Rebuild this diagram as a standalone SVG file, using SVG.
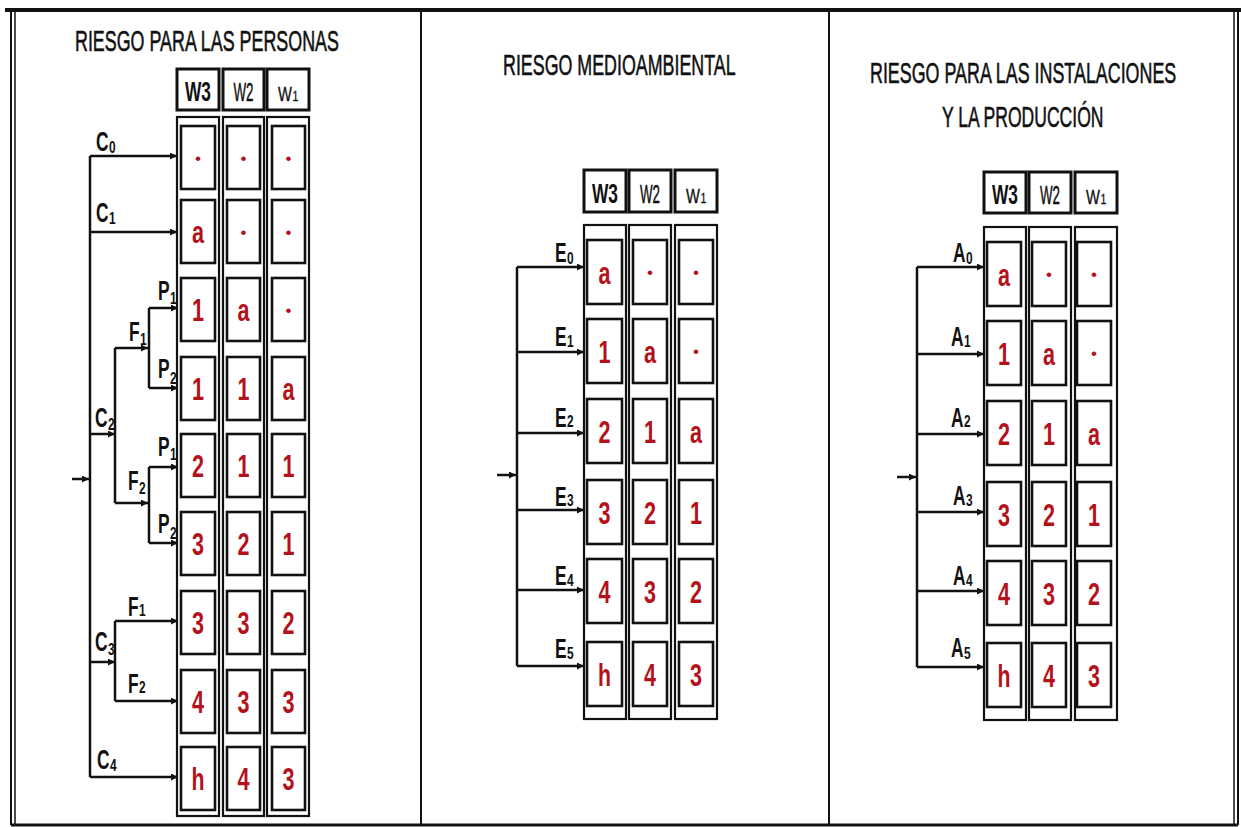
<svg xmlns="http://www.w3.org/2000/svg" width="1241" height="827" viewBox="0 0 1241 827">
<defs>
<marker id="ah" markerUnits="userSpaceOnUse" markerWidth="7" markerHeight="7" refX="7" refY="3.5" orient="auto"><path d="M0,0 L7,3.5 L0,7 z" fill="#111"/></marker>
<style>
.frame{stroke:#111;fill:none}
.hdr{fill:#fff;stroke:#111;stroke-width:3}
.col{fill:#fff;stroke:#111;stroke-width:2.2}
.cell{fill:#fff;stroke:#111;stroke-width:2.6}
.v{font-family:"Liberation Sans",Arial,sans-serif;font-weight:bold;font-size:32px;fill:#b3121c}
.d{font-family:"Liberation Sans",Arial,sans-serif;font-size:17px;fill:#b3121c;text-anchor:middle}
.t{font-family:"Liberation Sans",Arial,sans-serif;font-size:30px;fill:#111;stroke:#111;stroke-width:0.6}
.h3{font-family:"Liberation Sans",Arial,sans-serif;font-weight:bold;font-size:28px;fill:#111}
.h2{font-family:"Liberation Sans",Arial,sans-serif;font-size:26px;fill:#111;stroke:#111;stroke-width:0.5}
.h1{font-family:"Liberation Sans",Arial,sans-serif;font-size:21px;fill:#111;stroke:#111;stroke-width:0.4}
.hs{font-family:"Liberation Sans",Arial,sans-serif;font-size:15px;fill:#111;stroke:#111;stroke-width:0.3}
.lb{font-family:"Liberation Sans",Arial,sans-serif;font-weight:bold;font-size:28px;fill:#111}
.sb{font-family:"Liberation Sans",Arial,sans-serif;font-weight:bold;font-size:17px;fill:#111}
.cn{stroke:#111;stroke-width:2.5;fill:none}
.ar{marker-end:url(#ah)}
</style>
</defs>
<rect width="1241" height="827" fill="#fff"/>
<g id="frame" class="frame">
<line x1="5" y1="10" x2="1241" y2="10" stroke-width="4"/>
<line x1="11" y1="10" x2="11" y2="825" stroke-width="2"/>
<line x1="15" y1="10" x2="15" y2="825" stroke-width="1.5"/>
<line x1="11" y1="825" x2="1238" y2="825" stroke-width="3"/>
<line x1="1234" y1="10" x2="1234" y2="825" stroke-width="1.5"/>
<line x1="1238" y1="10" x2="1238" y2="825" stroke-width="2"/>
<line x1="421" y1="10" x2="421" y2="825" stroke-width="2"/>
<line x1="829" y1="10" x2="829" y2="825" stroke-width="2"/>
</g>

<!-- LEFT PANEL -->
<g id="left-title"><text class="t" transform="translate(75,51) scale(0.596,1)">RIESGO PARA LAS PERSONAS</text></g>
<g id="left-hdr-w3"><rect class="hdr" x="177" y="69" width="42" height="41"/><text class="h3" x="185" y="101" textLength="26" lengthAdjust="spacingAndGlyphs">W3</text></g>
<g id="left-hdr-w2"><rect class="hdr" x="223" y="69" width="41" height="41"/><text class="h2" x="233.5" y="101" textLength="20" lengthAdjust="spacingAndGlyphs">W2</text></g>
<g id="left-hdr-w1"><rect class="hdr" x="267" y="69" width="42" height="41"/><text class="h1" transform="translate(278,101) scale(0.7,1)">W</text><text class="hs" transform="translate(292.5,101) scale(0.7,1)">1</text></g>

<g id="left-col-w3">
<rect class="col" x="177" y="117" width="42" height="699"/>
<rect class="cell" x="181" y="126" width="34" height="63"/><text class="d" x="198" y="164">•</text>
<rect class="cell" x="181" y="200" width="34" height="63"/><text class="v" x="192" y="243" textLength="12" lengthAdjust="spacingAndGlyphs">a</text>
<rect class="cell" x="181" y="278" width="34" height="63"/><text class="v" x="192" y="321" textLength="12" lengthAdjust="spacingAndGlyphs">1</text>
<rect class="cell" x="181" y="357" width="34" height="63"/><text class="v" x="192" y="400" textLength="12" lengthAdjust="spacingAndGlyphs">1</text>
<rect class="cell" x="181" y="434" width="34" height="63"/><text class="v" x="192" y="477" textLength="12" lengthAdjust="spacingAndGlyphs">2</text>
<rect class="cell" x="181" y="512" width="34" height="63"/><text class="v" x="192" y="555" textLength="12" lengthAdjust="spacingAndGlyphs">3</text>
<rect class="cell" x="181" y="591" width="34" height="63"/><text class="v" x="192" y="634" textLength="12" lengthAdjust="spacingAndGlyphs">3</text>
<rect class="cell" x="181" y="670" width="34" height="63"/><text class="v" x="192" y="713" textLength="12" lengthAdjust="spacingAndGlyphs">4</text>
<rect class="cell" x="181" y="747" width="34" height="63"/><text class="v" x="191.5" y="790" textLength="13" lengthAdjust="spacingAndGlyphs">h</text>
</g>
<g id="left-col-w2">
<rect class="col" x="223" y="117" width="41" height="699"/>
<rect class="cell" x="227" y="126" width="33" height="63"/><text class="d" x="243.5" y="164">•</text>
<rect class="cell" x="227" y="200" width="33" height="63"/><text class="d" x="243.5" y="238">•</text>
<rect class="cell" x="227" y="278" width="33" height="63"/><text class="v" x="237.5" y="321" textLength="12" lengthAdjust="spacingAndGlyphs">a</text>
<rect class="cell" x="227" y="357" width="33" height="63"/><text class="v" x="237.5" y="400" textLength="12" lengthAdjust="spacingAndGlyphs">1</text>
<rect class="cell" x="227" y="434" width="33" height="63"/><text class="v" x="237.5" y="477" textLength="12" lengthAdjust="spacingAndGlyphs">1</text>
<rect class="cell" x="227" y="512" width="33" height="63"/><text class="v" x="237.5" y="555" textLength="12" lengthAdjust="spacingAndGlyphs">2</text>
<rect class="cell" x="227" y="591" width="33" height="63"/><text class="v" x="237.5" y="634" textLength="12" lengthAdjust="spacingAndGlyphs">3</text>
<rect class="cell" x="227" y="670" width="33" height="63"/><text class="v" x="237.5" y="713" textLength="12" lengthAdjust="spacingAndGlyphs">3</text>
<rect class="cell" x="227" y="747" width="33" height="63"/><text class="v" x="237.5" y="790" textLength="12" lengthAdjust="spacingAndGlyphs">4</text>
</g>
<g id="left-col-w1">
<rect class="col" x="267" y="117" width="42" height="699"/>
<rect class="cell" x="272" y="126" width="33" height="63"/><text class="d" x="288.5" y="164">•</text>
<rect class="cell" x="272" y="200" width="33" height="63"/><text class="d" x="288.5" y="238">•</text>
<rect class="cell" x="272" y="278" width="33" height="63"/><text class="d" x="288.5" y="316">•</text>
<rect class="cell" x="272" y="357" width="33" height="63"/><text class="v" x="282.5" y="400" textLength="12" lengthAdjust="spacingAndGlyphs">a</text>
<rect class="cell" x="272" y="434" width="33" height="63"/><text class="v" x="282.5" y="477" textLength="12" lengthAdjust="spacingAndGlyphs">1</text>
<rect class="cell" x="272" y="512" width="33" height="63"/><text class="v" x="282.5" y="555" textLength="12" lengthAdjust="spacingAndGlyphs">1</text>
<rect class="cell" x="272" y="591" width="33" height="63"/><text class="v" x="282.5" y="634" textLength="12" lengthAdjust="spacingAndGlyphs">2</text>
<rect class="cell" x="272" y="670" width="33" height="63"/><text class="v" x="282.5" y="713" textLength="12" lengthAdjust="spacingAndGlyphs">3</text>
<rect class="cell" x="272" y="747" width="33" height="63"/><text class="v" x="282.5" y="790" textLength="12" lengthAdjust="spacingAndGlyphs">3</text>
</g>

<g id="left-connectors">
<path class="cn" d="M90 156 V777"/>
<path class="cn ar" d="M72 479 H89"/>
<path class="cn ar" d="M90 156 H177"/>
<path class="cn ar" d="M90 232 H177"/>
<path class="cn ar" d="M90 434 H115"/>
<path class="cn" d="M115 348 V503"/>
<path class="cn ar" d="M115 348 H148"/>
<path class="cn ar" d="M115 503 H148"/>
<path class="cn" d="M149 308 V388"/>
<path class="cn ar" d="M149 308 H178"/>
<path class="cn ar" d="M149 388 H178"/>
<path class="cn" d="M149 467 V543"/>
<path class="cn ar" d="M149 467 H178"/>
<path class="cn ar" d="M149 543 H178"/>
<path class="cn ar" d="M90 662 H115"/>
<path class="cn" d="M115 621 V701"/>
<path class="cn ar" d="M115 621 H178"/>
<path class="cn ar" d="M115 701 H178"/>
<path class="cn ar" d="M90 777 H178"/>
</g>
<g id="left-labels">
<text class="lb" transform="translate(96,151) scale(0.62,1)">C</text><text class="sb" transform="translate(109,153) scale(0.7,1)">0</text>
<text class="lb" transform="translate(96,222) scale(0.62,1)">C</text><text class="sb" transform="translate(109,224) scale(0.7,1)">1</text>
<text class="lb" transform="translate(95,427) scale(0.62,1)">C</text><text class="sb" transform="translate(108,430) scale(0.7,1)">2</text>
<text class="lb" transform="translate(129,341) scale(0.62,1)">F</text><text class="sb" transform="translate(140,345) scale(0.7,1)">1</text>
<text class="lb" transform="translate(158,300) scale(0.62,1)">P</text><text class="sb" transform="translate(170,304) scale(0.7,1)">1</text>
<text class="lb" transform="translate(158,378) scale(0.62,1)">P</text><text class="sb" transform="translate(170,384) scale(0.7,1)">2</text>
<text class="lb" transform="translate(158,456) scale(0.62,1)">P</text><text class="sb" transform="translate(170,460) scale(0.7,1)">1</text>
<text class="lb" transform="translate(128,490) scale(0.62,1)">F</text><text class="sb" transform="translate(139,494) scale(0.7,1)">2</text>
<text class="lb" transform="translate(158,533) scale(0.62,1)">P</text><text class="sb" transform="translate(170,539) scale(0.7,1)">2</text>
<text class="lb" transform="translate(128,616) scale(0.62,1)">F</text><text class="sb" transform="translate(139,616) scale(0.7,1)">1</text>
<text class="lb" transform="translate(95,651) scale(0.62,1)">C</text><text class="sb" transform="translate(108,655) scale(0.7,1)">3</text>
<text class="lb" transform="translate(128,693) scale(0.62,1)">F</text><text class="sb" transform="translate(139,693) scale(0.7,1)">2</text>
<text class="lb" transform="translate(97,769) scale(0.62,1)">C</text><text class="sb" transform="translate(110,771) scale(0.7,1)">4</text>
</g>

<!-- MIDDLE PANEL -->
<g id="mid-title"><text class="t" transform="translate(503,75) scale(0.595,1)">RIESGO MEDIOAMBIENTAL</text></g>
<g id="mid-hdr-w3"><rect class="hdr" x="584" y="170" width="42" height="42"/><text class="h3" x="592" y="203" textLength="26" lengthAdjust="spacingAndGlyphs">W3</text></g>
<g id="mid-hdr-w2"><rect class="hdr" x="629" y="170" width="42" height="42"/><text class="h2" x="640" y="203" textLength="20" lengthAdjust="spacingAndGlyphs">W2</text></g>
<g id="mid-hdr-w1"><rect class="hdr" x="675" y="170" width="42" height="42"/><text class="h1" transform="translate(686,203) scale(0.7,1)">W</text><text class="hs" transform="translate(700.5,203) scale(0.7,1)">1</text></g>

<g id="mid-col-w3">
<rect class="col" x="584" y="225" width="42" height="494"/>
<rect class="cell" x="587" y="240" width="35" height="64"/><text class="v" x="598.5" y="283.5" textLength="12" lengthAdjust="spacingAndGlyphs">a</text>
<rect class="cell" x="587" y="319" width="35" height="64"/><text class="v" x="598.5" y="362.5" textLength="12" lengthAdjust="spacingAndGlyphs">1</text>
<rect class="cell" x="587" y="399" width="35" height="64"/><text class="v" x="598.5" y="442.5" textLength="12" lengthAdjust="spacingAndGlyphs">2</text>
<rect class="cell" x="587" y="480" width="35" height="64"/><text class="v" x="598.5" y="523.5" textLength="12" lengthAdjust="spacingAndGlyphs">3</text>
<rect class="cell" x="587" y="559" width="35" height="64"/><text class="v" x="598.5" y="602.5" textLength="12" lengthAdjust="spacingAndGlyphs">4</text>
<rect class="cell" x="587" y="642" width="35" height="64"/><text class="v" x="598" y="685.5" textLength="13" lengthAdjust="spacingAndGlyphs">h</text>
</g>
<g id="mid-col-w2">
<rect class="col" x="629" y="225" width="42" height="494"/>
<rect class="cell" x="633" y="240" width="34" height="64"/><text class="d" x="650" y="278">•</text>
<rect class="cell" x="633" y="319" width="34" height="64"/><text class="v" x="644" y="362.5" textLength="12" lengthAdjust="spacingAndGlyphs">a</text>
<rect class="cell" x="633" y="399" width="34" height="64"/><text class="v" x="644" y="442.5" textLength="12" lengthAdjust="spacingAndGlyphs">1</text>
<rect class="cell" x="633" y="480" width="34" height="64"/><text class="v" x="644" y="523.5" textLength="12" lengthAdjust="spacingAndGlyphs">2</text>
<rect class="cell" x="633" y="559" width="34" height="64"/><text class="v" x="644" y="602.5" textLength="12" lengthAdjust="spacingAndGlyphs">3</text>
<rect class="cell" x="633" y="642" width="34" height="64"/><text class="v" x="644" y="685.5" textLength="12" lengthAdjust="spacingAndGlyphs">4</text>
</g>
<g id="mid-col-w1">
<rect class="col" x="675" y="225" width="42" height="494"/>
<rect class="cell" x="679" y="240" width="34" height="64"/><text class="d" x="696" y="278">•</text>
<rect class="cell" x="679" y="319" width="34" height="64"/><text class="d" x="696" y="357">•</text>
<rect class="cell" x="679" y="399" width="34" height="64"/><text class="v" x="690" y="442.5" textLength="12" lengthAdjust="spacingAndGlyphs">a</text>
<rect class="cell" x="679" y="480" width="34" height="64"/><text class="v" x="690" y="523.5" textLength="12" lengthAdjust="spacingAndGlyphs">1</text>
<rect class="cell" x="679" y="559" width="34" height="64"/><text class="v" x="690" y="602.5" textLength="12" lengthAdjust="spacingAndGlyphs">2</text>
<rect class="cell" x="679" y="642" width="34" height="64"/><text class="v" x="690" y="685.5" textLength="12" lengthAdjust="spacingAndGlyphs">3</text>
</g>

<g id="mid-connectors">
<path class="cn" d="M517 267 V666"/>
<path class="cn ar" d="M497 475 H516"/>
<path class="cn ar" d="M517 267 H584"/>
<path class="cn ar" d="M517 352 H584"/>
<path class="cn ar" d="M517 433 H584"/>
<path class="cn ar" d="M517 510 H584"/>
<path class="cn ar" d="M517 590 H584"/>
<path class="cn ar" d="M517 666 H584"/>
</g>
<g id="mid-labels">
<text class="lb" transform="translate(555,262) scale(0.62,1)">E</text><text class="sb" transform="translate(567,264) scale(0.7,1)">0</text>
<text class="lb" transform="translate(555,346) scale(0.62,1)">E</text><text class="sb" transform="translate(567,347) scale(0.7,1)">1</text>
<text class="lb" transform="translate(555,427) scale(0.62,1)">E</text><text class="sb" transform="translate(567,427) scale(0.7,1)">2</text>
<text class="lb" transform="translate(555,506) scale(0.62,1)">E</text><text class="sb" transform="translate(567,506) scale(0.7,1)">3</text>
<text class="lb" transform="translate(555,585) scale(0.62,1)">E</text><text class="sb" transform="translate(567,586) scale(0.7,1)">4</text>
<text class="lb" transform="translate(555,658) scale(0.62,1)">E</text><text class="sb" transform="translate(567,659) scale(0.7,1)">5</text>
</g>

<!-- RIGHT PANEL -->
<g id="right-title">
<text class="t" transform="translate(870,83) scale(0.596,1)">RIESGO PARA LAS INSTALACIONES</text>
<text class="t" transform="translate(942,127) scale(0.585,1)">Y LA PRODUCCIÓN</text>
</g>
<g id="right-hdr-w3"><rect class="hdr" x="984" y="172" width="42" height="41"/><text class="h3" x="992" y="204" textLength="26" lengthAdjust="spacingAndGlyphs">W3</text></g>
<g id="right-hdr-w2"><rect class="hdr" x="1029" y="172" width="42" height="41"/><text class="h2" x="1040" y="204" textLength="20" lengthAdjust="spacingAndGlyphs">W2</text></g>
<g id="right-hdr-w1"><rect class="hdr" x="1075" y="172" width="42" height="41"/><text class="h1" transform="translate(1086,204) scale(0.7,1)">W</text><text class="hs" transform="translate(1100.5,204) scale(0.7,1)">1</text></g>

<g id="right-col-w3">
<rect class="col" x="984" y="227" width="42" height="493"/>
<rect class="cell" x="987" y="242" width="34" height="64"/><text class="v" x="998" y="285.5" textLength="12" lengthAdjust="spacingAndGlyphs">a</text>
<rect class="cell" x="987" y="321" width="34" height="64"/><text class="v" x="998" y="364.5" textLength="12" lengthAdjust="spacingAndGlyphs">1</text>
<rect class="cell" x="987" y="401" width="34" height="64"/><text class="v" x="998" y="444.5" textLength="12" lengthAdjust="spacingAndGlyphs">2</text>
<rect class="cell" x="987" y="482" width="34" height="64"/><text class="v" x="998" y="525.5" textLength="12" lengthAdjust="spacingAndGlyphs">3</text>
<rect class="cell" x="987" y="561" width="34" height="64"/><text class="v" x="998" y="604.5" textLength="12" lengthAdjust="spacingAndGlyphs">4</text>
<rect class="cell" x="987" y="643" width="34" height="64"/><text class="v" x="997.5" y="686.5" textLength="13" lengthAdjust="spacingAndGlyphs">h</text>
</g>
<g id="right-col-w2">
<rect class="col" x="1029" y="227" width="42" height="493"/>
<rect class="cell" x="1032" y="242" width="34" height="64"/><text class="d" x="1049" y="280">•</text>
<rect class="cell" x="1032" y="321" width="34" height="64"/><text class="v" x="1043" y="364.5" textLength="12" lengthAdjust="spacingAndGlyphs">a</text>
<rect class="cell" x="1032" y="401" width="34" height="64"/><text class="v" x="1043" y="444.5" textLength="12" lengthAdjust="spacingAndGlyphs">1</text>
<rect class="cell" x="1032" y="482" width="34" height="64"/><text class="v" x="1043" y="525.5" textLength="12" lengthAdjust="spacingAndGlyphs">2</text>
<rect class="cell" x="1032" y="561" width="34" height="64"/><text class="v" x="1043" y="604.5" textLength="12" lengthAdjust="spacingAndGlyphs">3</text>
<rect class="cell" x="1032" y="643" width="34" height="64"/><text class="v" x="1043" y="686.5" textLength="12" lengthAdjust="spacingAndGlyphs">4</text>
</g>
<g id="right-col-w1">
<rect class="col" x="1075" y="227" width="42" height="493"/>
<rect class="cell" x="1077" y="242" width="34" height="64"/><text class="d" x="1094" y="280">•</text>
<rect class="cell" x="1077" y="321" width="34" height="64"/><text class="d" x="1094" y="359">•</text>
<rect class="cell" x="1077" y="401" width="34" height="64"/><text class="v" x="1088" y="444.5" textLength="12" lengthAdjust="spacingAndGlyphs">a</text>
<rect class="cell" x="1077" y="482" width="34" height="64"/><text class="v" x="1088" y="525.5" textLength="12" lengthAdjust="spacingAndGlyphs">1</text>
<rect class="cell" x="1077" y="561" width="34" height="64"/><text class="v" x="1088" y="604.5" textLength="12" lengthAdjust="spacingAndGlyphs">2</text>
<rect class="cell" x="1077" y="643" width="34" height="64"/><text class="v" x="1088" y="686.5" textLength="12" lengthAdjust="spacingAndGlyphs">3</text>
</g>

<g id="right-connectors">
<path class="cn" d="M917 267 V667"/>
<path class="cn ar" d="M897 477 H916"/>
<path class="cn ar" d="M917 267 H984"/>
<path class="cn ar" d="M917 354 H984"/>
<path class="cn ar" d="M917 434 H984"/>
<path class="cn ar" d="M917 512 H984"/>
<path class="cn ar" d="M917 591 H984"/>
<path class="cn ar" d="M917 667 H984"/>
</g>
<g id="right-labels">
<text class="lb" transform="translate(953,262) scale(0.62,1)">A</text><text class="sb" transform="translate(966,264) scale(0.7,1)">0</text>
<text class="lb" transform="translate(951,346) scale(0.62,1)">A</text><text class="sb" transform="translate(964,347) scale(0.7,1)">1</text>
<text class="lb" transform="translate(951,427) scale(0.62,1)">A</text><text class="sb" transform="translate(964,427) scale(0.7,1)">2</text>
<text class="lb" transform="translate(953,505) scale(0.62,1)">A</text><text class="sb" transform="translate(966,506) scale(0.7,1)">3</text>
<text class="lb" transform="translate(953,585) scale(0.62,1)">A</text><text class="sb" transform="translate(966,586) scale(0.7,1)">4</text>
<text class="lb" transform="translate(951,657) scale(0.62,1)">A</text><text class="sb" transform="translate(964,659) scale(0.7,1)">5</text>
</g>
</svg>
